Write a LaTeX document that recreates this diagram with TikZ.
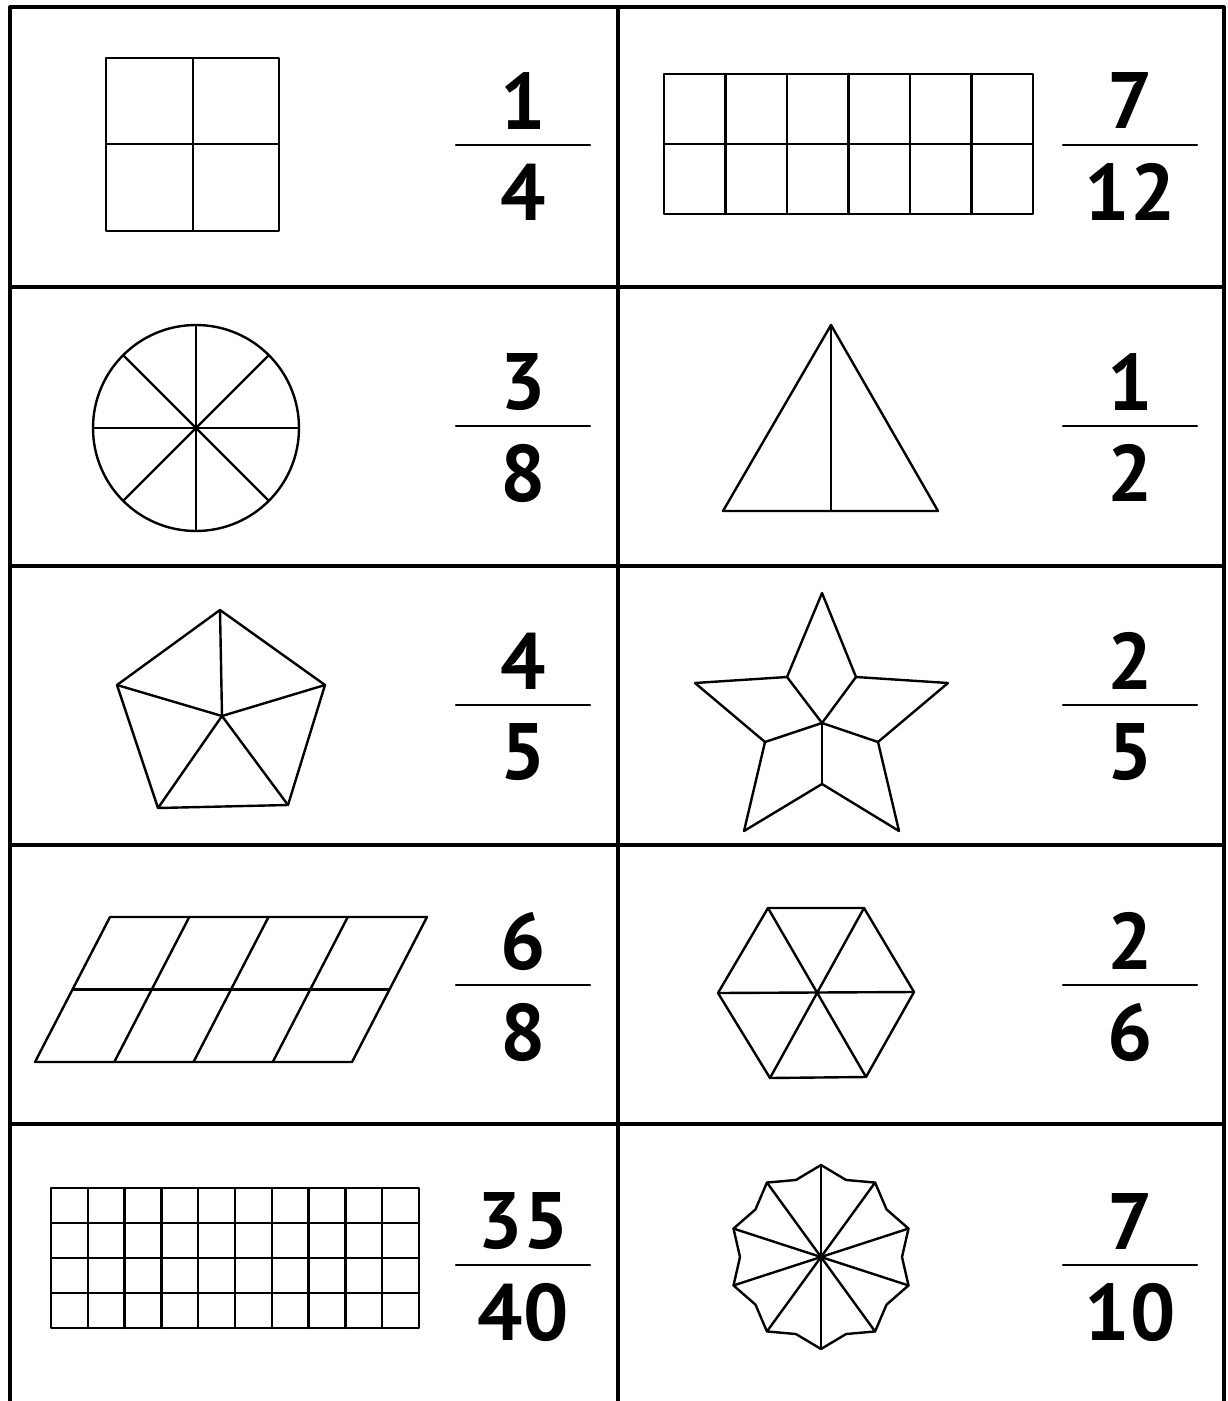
\documentclass[tikz,border=0pt]{standalone}
\usepackage{fontspec}
\setmainfont{PT Sans}
\newcommand\fracpair[5]{%
  \node[fracnum] (#1n) at (#2,#3-44) {#4};
  \node[fracnum] (#1d) at (#2,#3+47) {#5};
  \coordinate (#1l) at (#2-67,#3);
  \coordinate (#1r) at (#2+67,#3);
  \draw[fracbar] (#1l) -- (#1r);}
\begin{document}
\begin{tikzpicture}[x=0.5pt,y=-0.5pt,line join=round,line cap=round,
  frame/.style={line width=1.6pt},
  shp/.style={line width=1.2pt},
  fracbar/.style={line width=1.2pt},
  fracnum/.style={font=\fontsize{40}{44}\selectfont\bfseries,inner sep=0pt}]
\useasboundingbox[fill=white] (0,0) rectangle (1227,1401);
% frame
\draw[frame,line cap=butt] (10,1401) -- (10,7) -- (1224,7) -- (1224,1401);
\draw[frame,line cap=butt] (618,7) -- (618,1401);
\foreach \y in {287,566,845,1124} \draw[frame,line cap=butt] (10,\y) -- (1224,\y);
% fractions
\fracpair{fa}{523}{145}{1}{4}
\fracpair{fb}{1130}{145}{7}{12}
\fracpair{fc}{523}{426}{3}{8}
\fracpair{fd}{1130}{426}{1}{2}
\fracpair{fe}{523}{705}{4}{5}
\fracpair{ff}{1130}{705}{2}{5}
\fracpair{fg}{523}{985}{6}{8}
\fracpair{fh}{1130}{985}{2}{6}
\fracpair{fi}{523}{1265}{35}{40}
\fracpair{fj}{1130}{1265}{7}{10}
% square 1/4
\draw[shp] (106,58) rectangle (279,231);
\draw[shp] (193,58) -- (193,231) (106,144) -- (279,144);
% rectangle 7/12
\draw[shp] (664,74) rectangle (1033,214);
\draw[shp] (664,144) -- (1033,144);
\foreach \i in {1,...,5} \draw[shp] (664+\i*61.5,74) -- (664+\i*61.5,214);
% circle 3/8
\draw[shp] (196,428) circle[radius=51.5pt];
\foreach \a in {0,45,90,135}
  \draw[shp] ([shift={(196,428)}]\a:103) -- ([shift={(196,428)}]\a+180:103);
% triangle 1/2
\draw[shp] (831,325) -- (938,511) -- (723,511) -- cycle;
\draw[shp] (831,325) -- (831,511);
% pentagon 4/5
\draw[shp] (220,610) -- (325,685) -- (288,805) -- (158,808) -- (117,685) -- cycle;
\foreach \p in {(220,610),(325,685),(288,805),(158,808),(117,685)}
  \draw[shp] (222,716) -- \p;
% star 2/5
\draw[shp] (822,593) -- (856,677) -- (948,683) -- (878,742) -- (899,831) -- (822,784)
  -- (744,831) -- (765,742) -- (695,683) -- (787,677) -- cycle;
\foreach \p in {(856,677),(878,742),(822,784),(765,742),(787,677)}
  \draw[shp] (822,723) -- \p;
% parallelogram 6/8
\draw[shp] (110,917) -- (427,917) -- (352,1062) -- (35,1062) -- cycle;
\draw[shp] (72.5,989.5) -- (389.5,989.5);
\foreach \i in {1,2,3} \draw[shp] (110+\i*79.25,917) -- (35+\i*79.25,1062);
% hexagon 2/6
\draw[shp] (768,908) -- (864,908) -- (914,992) -- (866,1077) -- (770,1078) -- (718,993) -- cycle;
\draw[shp] (768,908) -- (866,1077) (864,908) -- (770,1078) (914,992) -- (718,993);
% grid 35/40
\draw[shp] (51,1188) rectangle (419,1328);
\foreach \i in {1,...,9} \draw[shp] (51+\i*36.8,1188) -- (51+\i*36.8,1328);
\foreach \j in {1,2,3} \draw[shp] (51,1188+\j*35) -- (419,1188+\j*35);
% wavy decagon 7/10
\draw[shp] ([shift={(821,1257)}]90:92)
  \foreach \k in {1,...,10} { -- ([shift={(821,1257)}]90-36*\k+18:81) -- ([shift={(821,1257)}]90-36*\k:92) } -- cycle;
\foreach \k in {0,...,4}
  \draw[shp] ([shift={(821,1257)}]90-36*\k:92) -- ([shift={(821,1257)}]270-36*\k:92);
\end{tikzpicture}
\end{document}
